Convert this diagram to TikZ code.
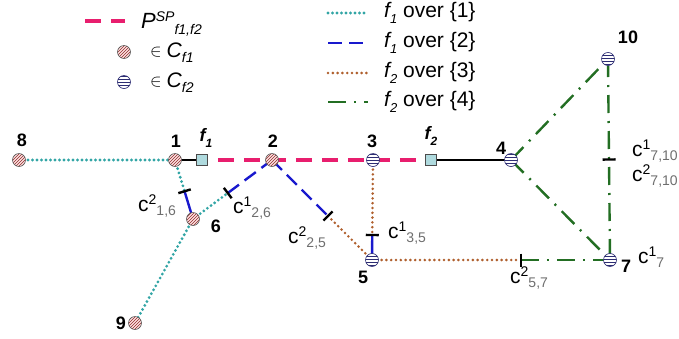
\documentclass[tikz,border=0pt]{standalone}
\usepackage{fontspec}
\setmainfont{Liberation Sans}
\usetikzlibrary{patterns,calc}
\pgfdeclarelayer{bg}
\pgfsetlayers{bg,main}
\definecolor{pinkP}{RGB}{232,30,110}
\definecolor{tealD}{RGB}{50,165,165}
\definecolor{blueD}{RGB}{25,25,205}
\definecolor{brownD}{RGB}{175,95,45}
\definecolor{greenD}{RGB}{35,110,35}
\definecolor{navyS}{RGB}{45,45,115}
\definecolor{hatchR}{RGB}{140,45,45}
\definecolor{boxF}{RGB}{175,218,222}
\definecolor{subG}{RGB}{110,110,110}
\newcommand{\fsz}[1]{\fontsize{#1}{#1}\selectfont}
\newcommand{\clab}[2]{{\fsz{21}c}\raisebox{6.5pt}{\fsz{14}#1}\raisebox{-4pt}{\fsz{14}\color{subG}#2}}
\begin{document}
\begin{tikzpicture}[x=1pt,y=-1pt,
  hn/.style={circle,minimum size=13pt,inner sep=0pt,draw=black!65,line width=0.6pt,
     preaction={fill=red!12},pattern=north east lines,pattern color=hatchR},
  sn/.style={circle,minimum size=13pt,inner sep=0pt,draw=navyS,line width=0.6pt,
     preaction={fill=white},pattern=horizontal lines,pattern color=navyS},
  fb/.style={rectangle,minimum size=11pt,inner sep=0pt,draw=black!70,line width=0.6pt,fill=boxF},
  num/.style={font=\bfseries\fsz{18},inner sep=0pt},
  txt/.style={font=\fsz{21},inner sep=0pt},
  tealdot/.style={draw=tealD,line width=3.1pt,line cap=round,dash pattern=on 0pt off 4.5pt},
  browndot/.style={draw=brownD,line width=2.9pt,line cap=round,dash pattern=on 0pt off 4.8pt},
  bluedash/.style={draw=blueD,line width=2.4pt,dash pattern=on 14pt off 7pt},
  bluesolid/.style={draw=blueD,line width=2.4pt},
  greendd/.style={draw=greenD,line width=2.4pt,dash pattern=on 18pt off 8pt on 2pt off 8pt},
  pinkdash/.style={draw=pinkP,line width=3.4pt,dash pattern=on 16pt off 10pt},
  solidk/.style={draw=black,line width=1.3pt},
  tk/.style={draw=black,line width=2.4pt}]
\useasboundingbox (0,0) rectangle (679,338);
% ---------- graph nodes
\node[hn] (n8) at (19,160) {};
\node[hn] (n1) at (175,160) {};
\node[fb] (f1) at (202,160) {};
\node[hn] (n2) at (272,160) {};
\node[sn] (n3) at (373,160) {};
\node[fb] (f2) at (431,160) {};
\node[sn] (n4) at (511,160) {};
\node[sn] (n10) at (608,59) {};
\node[sn] (n7) at (610,260) {};
\node[sn] (n5) at (372,260) {};
\node[hn] (n6) at (193,219) {};
\node[hn] (n9) at (135,323) {};
% ---------- tick positions
\coordinate (t16) at ($(n1.center)!0.53!(n6.center)$);
\coordinate (t26) at ($(n6.center)!0.44!(n2.center)$);
\coordinate (t25) at ($(n2.center)!0.56!(n5.center)$);
\coordinate (t35) at ($(n3.center)!0.75!(n5.center)$);
\coordinate (t57) at ($(n5.center)!0.625!(n7.center)$);
\coordinate (t710) at ($(n10.center)!0.5!(n7.center)$);
% ---------- connectors
\begin{pgfonlayer}{bg}
\draw[tealdot] (n8.center) -- (n1.center);
\draw[tealdot] (n6.center) -- (n9.center);
\draw[tealdot] (n1.center) -- (t16);
\draw[bluesolid] (t16) -- (n6.center);
\draw[tealdot] (n6.center) -- (t26);
\draw[bluedash] (t26) -- (n2.center);
\draw[bluedash] (n2.center) -- (t25);
\draw[browndot] (t25) -- (n5.center);
\draw[browndot] (n3.center) -- (t35);
\draw[bluesolid] (t35) -- (n5.center);
\draw[browndot] (n5.center) -- (t57);
\draw[greendd] (t57) -- (n7.center);
\draw[greendd] (n4.center) -- (n10.center);
\draw[greendd] (n4.center) -- (n7.center);
\draw[greendd] (n10.center) -- (n7.center);
\draw[solidk] (n1.center) -- (f1);
\draw[pinkdash,dash phase=16pt] (f1.east) -- (f2.west);
\draw[solidk] (f2) -- (n4.center);
\end{pgfonlayer}
% ---------- ticks
\foreach \t/\o in {t16/n6,t26/n2,t25/n5,t35/n5,t57/n7,t710/n7}{
  \draw[tk] ($(\t)!6.5pt!90:(\o.center)$) -- ($(\t)!6.5pt!-90:(\o.center)$);
}
% ---------- node labels
\node[num] (l8) at (22,140) {8};
\node[num] (l1) at (176,141) {1};
\node[num] (lf1) at (206,138) {\itshape f\raisebox{-0.3em}{\fsz{12}1}};
\node[num] (l2) at (273,141) {2};
\node[num] (l3) at (372,141) {3};
\node[num] (lf2) at (431,136) {\itshape f\raisebox{-0.3em}{\fsz{12}2}};
\node[num] (l4) at (501,148) {4};
\node[num] (l10) at (628,37) {10};
\node[num] (l7) at (626,266) {7};
\node[num] (l5) at (363,277) {5};
\node[num] (l6) at (216,226) {6};
\node[num] (l9) at (121,323) {9};
% ---------- cost labels
\node[txt,anchor=base west] (c16) at (138,211) {\clab{2}{1,6}};
\node[txt,anchor=base west] (c26) at (233,213) {\clab{1}{2,6}};
\node[txt,anchor=base west] (c25) at (288,243) {\clab{2}{2,5}};
\node[txt,anchor=base west] (c35) at (388,238) {\clab{1}{3,5}};
\node[txt,anchor=base west] (c57) at (510,283) {\clab{2}{5,7}};
\node[txt,anchor=base west] (c710a) at (632,156) {\clab{1}{7,10}};
\node[txt,anchor=base west] (c710b) at (632,181) {\clab{2}{7,10}};
\node[txt,anchor=base west] (c7) at (638,263) {\clab{1}{7}};
% ---------- legend (left)
\coordinate (lp1) at (85,21);
\coordinate (lp2) at (125,21);
\draw[pinkdash] (lp1) -- (lp2);
\node[txt,anchor=base west] (lP) at (141,28) {{\fsz{22}\itshape P}\raisebox{7pt}{\fsz{14}\itshape SP}\raisebox{-6pt}{\fsz{14}\itshape f1,f2}};
\node[hn] (lh) at (124,52) {};
\node[txt,anchor=base west] (lC1) at (150,57) {\raisebox{0.5pt}{\fsz{17}$\in$}\hspace{5pt}\itshape C\raisebox{-5pt}{\fsz{14}f1}};
\node[sn] (ls) at (124,82) {};
\node[txt,anchor=base west] (lC2) at (150,87) {\raisebox{0.5pt}{\fsz{17}$\in$}\hspace{5pt}\itshape C\raisebox{-5pt}{\fsz{14}f2}};
% ---------- legend (right)
\coordinate (r1a) at (328,13); \coordinate (r1b) at (368,13);
\coordinate (r2a) at (328,43); \coordinate (r2b) at (368,43);
\coordinate (r3a) at (328,73); \coordinate (r3b) at (368,73);
\coordinate (r4a) at (328,102); \coordinate (r4b) at (368,102);
\draw[tealdot] (r1a) -- (r1b);
\draw[bluedash] (r2a) -- (r2b);
\draw[browndot] (r3a) -- (r3b);
\draw[greendd] (r4a) -- (r4b);
\node[txt,anchor=west] (t1) at (384,13) {{\itshape f\raisebox{-0.25em}{\fsz{13}1}} over \{1\}};
\node[txt,anchor=west] (t2) at (384,43) {{\itshape f\raisebox{-0.25em}{\fsz{13}1}} over \{2\}};
\node[txt,anchor=west] (t3) at (384,73) {{\itshape f\raisebox{-0.25em}{\fsz{13}2}} over \{3\}};
\node[txt,anchor=west] (t4) at (384,102) {{\itshape f\raisebox{-0.25em}{\fsz{13}2}} over \{4\}};
\end{tikzpicture}
\end{document}
